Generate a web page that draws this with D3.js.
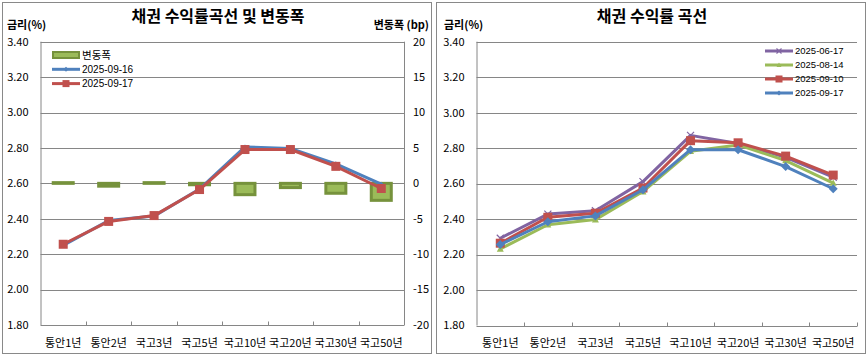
<!DOCTYPE html>
<html><head><meta charset="utf-8">
<script src="https://cdn.jsdelivr.net/npm/d3@7"></script>
<style>body{margin:0;background:#fff}svg{display:block}text{font-family:"Noto Sans CJK KR","Noto Sans",sans-serif}</style>
</head><body><svg id="c" width="868" height="358"></svg>
<script>
const categories = ["통안1년","통안2년","국고3년","국고5년","국고10년","국고20년","국고30년","국고50년"];
const yTicks = [1.8,2.0,2.2,2.4,2.6,2.8,3.0,3.2,3.4];
const bpTicks = [-20,-15,-10,-5,0,5,10,15,20];
// left chart
const change = [0.1,-0.4,0.1,-0.2,-1.6,-0.6,-1.4,-2.4];
const y0916 = [2.25,2.39,2.415,2.568,2.806,2.797,2.71,2.595];
const y0917 = [2.256,2.385,2.418,2.565,2.791,2.791,2.696,2.571];
// right chart
const y0617 = [2.292,2.428,2.447,2.611,2.872,2.826,2.748,2.636];
const y0814 = [2.232,2.368,2.397,2.555,2.782,2.818,2.73,2.603];
const y0910 = [2.264,2.41,2.433,2.575,2.842,2.83,2.755,2.648];

const svg = d3.select("#c");
const FONT = 11;
const gridC = "#868686";
const LEGFONT = "'Liberation Sans', Arial, sans-serif";

// panel borders
svg.append("rect").attr("x",2.5).attr("y",2.5).attr("width",429).attr("height",351).attr("fill","#fff").attr("stroke","#898989");
svg.append("rect").attr("x",436.5).attr("y",2.5).attr("width",429).attr("height",351).attr("fill","#fff").attr("stroke","#898989");

function base(g, x0, x1, top, bot, title, titleX) {
  const x = d3.scaleBand().domain(categories).range([x0,x1]).padding(0);
  const y = d3.scaleLinear().domain([1.8,3.4]).range([bot,top]);
  g.append("g").selectAll("line").data(yTicks).join("line")
    .attr("x1",x0).attr("x2",x1).attr("y1",d=>Math.round(y(d))+0.5).attr("y2",d=>Math.round(y(d))+0.5)
    .attr("stroke",gridC).attr("stroke-width",1);
  g.append("line").attr("x1",x0+0.5).attr("x2",x0+0.5).attr("y1",top).attr("y2",bot).attr("stroke",gridC);
  const bounds = categories.map(c=>x(c)).slice(1).concat([x1]);
  g.append("g").selectAll("line").data(bounds).join("line")
    .attr("x1",d=>Math.round(d)+0.5).attr("x2",d=>Math.round(d)+0.5)
    .attr("y1",Math.round(y(1.8))+0.5).attr("y2",Math.round(y(1.8))-3.5).attr("stroke",gridC);
  g.append("g").selectAll("text").data(yTicks).join("text")
    .attr("x",x0-12).attr("y",d=>y(d)).attr("dy","0.35em").attr("text-anchor","end")
    .attr("font-size",FONT).attr("fill","#000").text(d=>d.toFixed(2));
  g.append("g").selectAll("text").data(categories).join("text")
    .attr("x",d=>x(d)+x.bandwidth()/2).attr("y",bot+18).attr("dy","0.35em").attr("text-anchor","middle")
    .attr("font-size",FONT).attr("fill","#000").text(d=>d);
  g.append("text").attr("x",titleX).attr("y",22).attr("text-anchor","middle").attr("font-size",16)
    .attr("font-weight","bold").text(title);
  return {x,y};
}

function drawLine(g, x, y, vals, color, width) {
  const line = d3.line().x((d,i)=>x(categories[i])+x.bandwidth()/2).y(d=>y(d));
  g.append("path").attr("d",line(vals)).attr("fill","none").attr("stroke",color).attr("stroke-width",width).attr("stroke-linejoin","round");
}
function markers(g, x, y, vals, type, color, size) {
  const sel = g.append("g").selectAll("g").data(vals).join("g")
    .attr("transform",(d,i)=>`translate(${x(categories[i])+x.bandwidth()/2},${y(d)})`);
  drawMarker(sel, type, color, size);
}
function drawMarker(sel, type, color, size) {
  const s = size/2;
  if (type==="square") sel.append("rect").attr("x",-s).attr("y",-s).attr("width",size).attr("height",size).attr("fill",color);
  else if (type==="diamond") sel.append("path").attr("d",`M0,${-s}L${s},0L0,${s}L${-s},0Z`).attr("fill",color);
  else if (type==="triangle") sel.append("path").attr("d",`M0,${-s}L${s},${s*0.8}L${-s},${s*0.8}Z`).attr("fill",color);
  else if (type==="x") sel.append("path").attr("d",`M${-s},${-s}L${s},${s}M${s},${-s}L${-s},${s}`).attr("stroke",color).attr("stroke-width",1.2).attr("fill","none");
}

// ---------- LEFT CHART ----------
const gL = svg.append("g");
const L = base(gL, 40.5, 404, 41.7, 325, "채권 수익률곡선 및 변동폭", 218);
const yB = d3.scaleLinear().domain([-20,20]).range([325,41.7]);
gL.append("line").attr("x1",404.5).attr("x2",404.5).attr("y1",41.7).attr("y2",325).attr("stroke",gridC);
gL.append("g").selectAll("text").data(bpTicks).join("text")
  .attr("x",413).attr("y",d=>yB(d)).attr("dy","0.35em").attr("text-anchor","start")
  .attr("font-size",FONT).text(d=>d);
gL.append("text").attr("x",7).attr("y",29).attr("font-size",FONT).attr("font-weight","bold").text("금리(%)");
gL.append("text").attr("x",429).attr("y",29).attr("text-anchor","end").attr("font-size",FONT).attr("font-weight","bold").text("변동폭 (bp)");
const bw = 20;
gL.append("g").selectAll("rect").data(change).join("rect")
  .attr("x",(d,i)=>L.x(categories[i])+L.x.bandwidth()/2-bw/2)
  .attr("y",d=>Math.min(yB(0),yB(d))).attr("width",bw).attr("height",d=>Math.abs(yB(d)-yB(0)))
  .attr("fill","#9bbb59").attr("stroke","#76923c").attr("stroke-width",3);
drawLine(gL, L.x, L.y, y0916, "#4f81bd", 3);
markers(gL, L.x, L.y, y0916, "diamond", "#4f81bd", 5);
drawLine(gL, L.x, L.y, y0917, "#c0504d", 3);
markers(gL, L.x, L.y, y0917, "square", "#c0504d", 9);
const legL = [
  {name:"변동폭", type:"bar"},
  {name:"2025-09-16", type:"diamond", color:"#4f81bd", size:5},
  {name:"2025-09-17", type:"square", color:"#c0504d", size:7}
];
legL.forEach((d,i)=>{
  const yy = 55 + i*14.3;
  const g = gL.append("g");
  if (d.type==="bar") {
    g.append("rect").attr("x",53).attr("y",yy-3).attr("width",26).attr("height",6).attr("fill","#9bbb59").attr("stroke","#76923c").attr("stroke-width",2);
    g.append("text").attr("x",82).attr("y",yy).attr("dy","0.35em").attr("font-size",10.5).text(d.name);
  } else {
    g.append("line").attr("x1",52).attr("x2",80).attr("y1",yy).attr("y2",yy).attr("stroke",d.color).attr("stroke-width",3);
    drawMarker(g.append("g").attr("transform",`translate(66,${yy})`), d.type, d.color, d.size);
    g.append("text").attr("x",82).attr("y",yy).attr("dy","0.35em").attr("font-size",10).style("font-family",LEGFONT).text(d.name);
  }
});

// ---------- RIGHT CHART ----------
const gR = svg.append("g");
const R = base(gR, 476.5, 857, 41.7, 325.5, "채권 수익률 곡선", 652);
gR.append("text").attr("x",444).attr("y",29).attr("font-size",FONT).attr("font-weight","bold").text("금리(%)");
const seriesR = [
  {name:"2025-06-17", vals:y0617, color:"#8064a2", type:"x", size:7},
  {name:"2025-08-14", vals:y0814, color:"#9bbb59", type:"triangle", size:7},
  {name:"2025-09-10", vals:y0910, color:"#c0504d", type:"square", size:9},
  {name:"2025-09-17", vals:y0917, color:"#4f81bd", type:"diamond", size:9}
];
seriesR.forEach(s=>{
  drawLine(gR, R.x, R.y, s.vals, s.color, 3);
  markers(gR, R.x, R.y, s.vals, s.type, s.color, s.size);
});
seriesR.forEach((s,i)=>{
  const yy = 51 + i*14;
  const g = gR.append("g");
  g.append("line").attr("x1",765).attr("x2",793).attr("y1",yy).attr("y2",yy).attr("stroke",s.color).attr("stroke-width",3);
  drawMarker(g.append("g").attr("transform",`translate(779,${yy})`), s.type, s.color, s.type==="square"?7:5);
  g.append("text").attr("x",795).attr("y",yy).attr("dy","0.35em").attr("font-size",9.5).style("font-family",LEGFONT).text(s.name);
});
</script></body></html>
